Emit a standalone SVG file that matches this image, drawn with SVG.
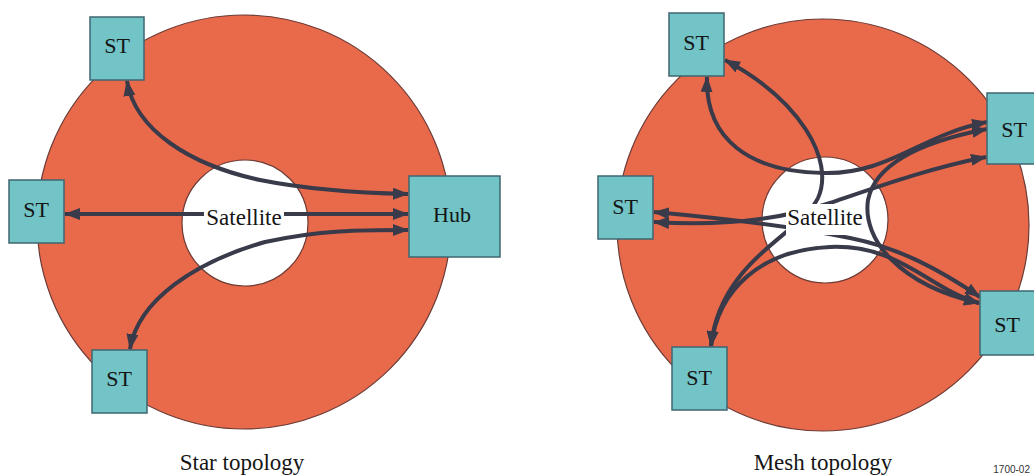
<svg xmlns="http://www.w3.org/2000/svg" width="1034" height="476" viewBox="0 0 1034 476">
<defs>
<style>
.ring{fill:#e9694b;stroke:#6b3b35;stroke-width:1.2}
.hole{fill:#ffffff;stroke:#6b3b35;stroke-width:1.2}
.box{fill:#72c4c7;stroke:#3f6672;stroke-width:1.5}
.lbl{font-family:"Liberation Serif","Times New Roman",serif;font-size:22px;fill:#151515;text-anchor:middle}
.sat{font-family:"Liberation Serif","Times New Roman",serif;font-size:23px;fill:#151515;text-anchor:middle}
.cap{font-family:"Liberation Serif","Times New Roman",serif;font-size:23px;fill:#151515;text-anchor:middle}
.ln{fill:none;stroke:#393a4a;stroke-width:4;marker-start:url(#ah);marker-end:url(#ah)}
</style>
<marker id="ah" markerUnits="userSpaceOnUse" viewBox="0 0 16 12" markerWidth="16" markerHeight="12" refX="15" refY="6" orient="auto-start-reverse">
<path d="M0,0 L16,6 L0,12 z" fill="#393a4a"/>
</marker>
</defs>
<rect width="1034" height="476" fill="#ffffff"/>

<g id="star">
<circle class="ring" cx="244" cy="222" r="207"/>
<circle class="hole" cx="245" cy="223" r="63"/>
</g>
<g id="mesh">
<circle class="ring" cx="823" cy="225" r="206"/>
<circle class="hole" cx="825" cy="220" r="63"/>
</g>

<g id="connectors">
<path class="ln" d="M127,81 C135,130 190,165 260,180 C310,190 360,193 408,194"/>
<path class="ln" d="M65,214 L408,214"/>
<path class="ln" d="M130,349 C138,300 195,262 265,242 C320,230 360,230 408,230"/>

<path class="ln" d="M707,77 C705,140 750,172 825,173 C890,174 920,135 987,122"/>
<path class="ln" d="M725,60 C800,100 835,160 818,198 C800,235 720,260 711,346"/>
<path class="ln" d="M711,346 C718,290 760,250 830,247 C900,244 930,290 979,303"/>
<path class="ln" d="M654,212 C720,218 800,228 850,238 C900,248 940,270 980,297"/>
<path class="ln" d="M654,222 C720,226 780,220 830,203 C880,186 930,168 986,157"/>
<path class="ln" d="M987,129 C920,142 875,165 868,200 C862,240 900,285 979,303"/>
</g>

<g id="sat-star">
<rect x="204" y="205" width="80" height="27" fill="#ffffff"/>
<text class="sat" x="244" y="225">Satellite</text>
</g>
<g id="sat-mesh">
<rect x="786" y="204" width="79" height="31" fill="#ffffff"/>
<text class="sat" x="825" y="225">Satellite</text>
</g>

<g id="st-star-top"><rect class="box" x="90" y="17" width="54" height="63"/><text class="lbl" x="117" y="53">ST</text></g>
<g id="st-star-left"><rect class="box" x="9" y="180" width="55" height="63"/><text class="lbl" x="36" y="217">ST</text></g>
<g id="st-star-bottom"><rect class="box" x="92" y="350" width="55" height="63"/><text class="lbl" x="119" y="386">ST</text></g>
<g id="hub"><rect class="box" x="409" y="176" width="91" height="81"/><text class="lbl" x="452" y="222">Hub</text></g>

<g id="st-mesh-tl"><rect class="box" x="669" y="13" width="55" height="63"/><text class="lbl" x="696" y="50">ST</text></g>
<g id="st-mesh-r"><rect class="box" x="987" y="93" width="55" height="71"/><text class="lbl" x="1014" y="137">ST</text></g>
<g id="st-mesh-l"><rect class="box" x="598" y="176" width="55" height="63"/><text class="lbl" x="625" y="214">ST</text></g>
<g id="st-mesh-br"><rect class="box" x="980" y="291" width="60" height="64"/><text class="lbl" x="1007" y="332">ST</text></g>
<g id="st-mesh-b"><rect class="box" x="672" y="347" width="55" height="63"/><text class="lbl" x="699" y="385">ST</text></g>

<text class="cap" x="242" y="470">Star topology</text>
<text class="cap" x="823" y="470">Mesh topology</text>
<text x="1030" y="473" text-anchor="end" font-family="Liberation Sans, Arial, sans-serif" font-size="10" fill="#333">1700-02</text>
</svg>
